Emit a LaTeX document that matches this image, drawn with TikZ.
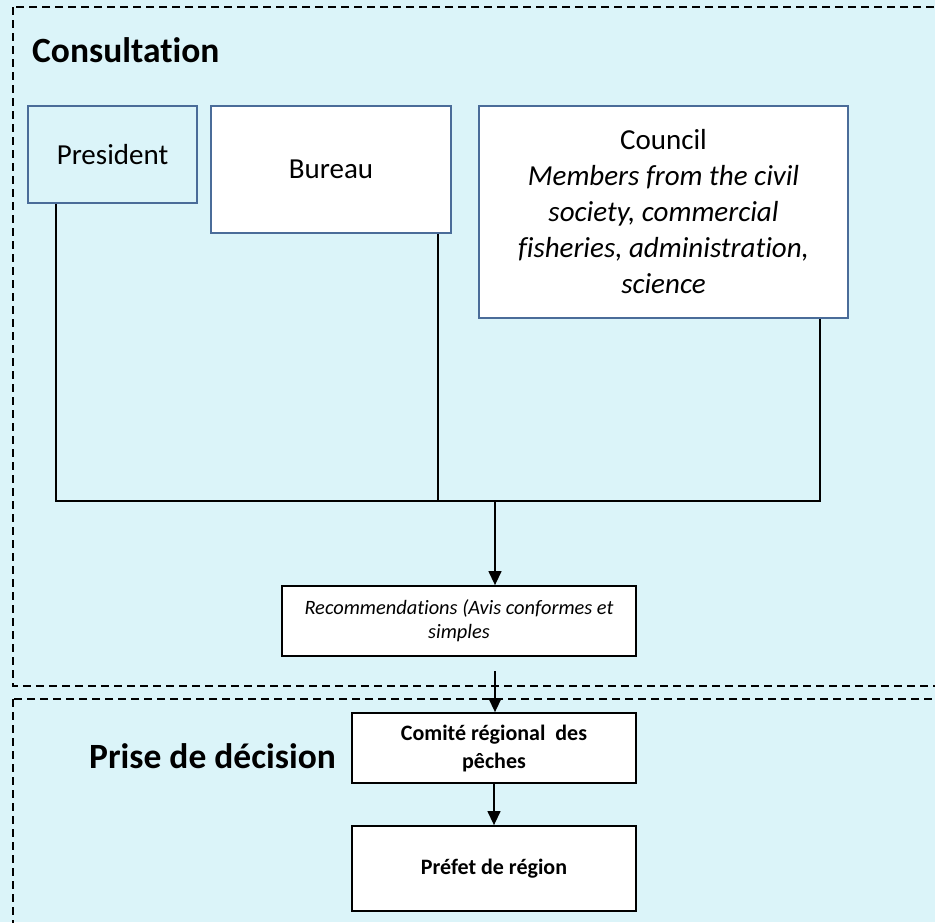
\documentclass[tikz,border=0pt]{standalone}
\usepackage{fontspec}
\setmainfont[Ligatures={NoCommon,NoContextual},RawFeature={-liga;-clig;-dlig;-calt}]{Carlito}
\usetikzlibrary{arrows.meta}
\definecolor{bgcyan}{RGB}{219,244,249}
\definecolor{boxblue}{RGB}{74,108,153}
\tikzset{
  zone/.style={draw=black, line width=1.5pt, dash pattern=on 8pt off 5pt},
  bluebox/.style={draw=boxblue, line width=1.6pt, inner sep=0pt, align=center, font=\fontsize{29}{36}\selectfont},
  blackbox/.style={draw=black, line width=1.8pt, fill=white, inner sep=0pt, align=center},
  link/.style={draw=black, line width=2pt},
  arr/.style={draw=black, line width=1.3pt, -{Triangle[length=14pt,width=13pt]}},
  title/.style={font=\fontsize{35.5}{42}\selectfont\bfseries, inner sep=0pt, anchor=base west}
}
\begin{document}
\begin{tikzpicture}[x=1pt,y=-1pt]
\useasboundingbox (0,0) rectangle (935,922);
\fill[bgcyan] (0,0) rectangle (935,922);
\clip (0,0) rectangle (935,922);
% zones
\draw[zone] (13,7) rectangle (945,686);
\draw[zone] (13,699) rectangle (945,935);
% titles
\node[title] (tcons) at (32,62) {Consultation};
\node[title] (tdec) at (89,768) {Prise de décision};
% consultation boxes
\node[bluebox, fill=bgcyan, minimum width=169pt, minimum height=97pt] (pres) at (112.5,154.5) {President};
\node[bluebox, fill=white, minimum width=240pt, minimum height=127pt] (bur) at (331,169.5) {Bureau};
\node[bluebox, fill=white, minimum width=369pt, minimum height=212pt] (coun) at (663.5,212) {Council\\ \itshape Members from the civil\\ \itshape society, commercial\\ \itshape fisheries, administration,\\ \itshape science};
% bus
\coordinate (busL) at (56,501);
\coordinate (busB) at (438,501);
\coordinate (busM) at (495,501);
\coordinate (busR) at (820,501);
\draw[link] (pres.south -| busL) -- (busL) -- (busR) -- (coun.south -| busR);
\draw[link] (bur.south -| busB) -- (busB);
% recommendations
\node[blackbox, minimum width=354pt, minimum height=70pt, font=\fontsize{20.4}{24}\selectfont\itshape] (rec) at (459,621) {Recommendations (Avis conformes et\\ simples};
\draw[arr] (busM) -- (busM |- rec.north);
% decision
\node[blackbox, minimum width=284pt, minimum height=70pt, font=\fontsize{22}{28}\selectfont\bfseries] (com) at (494,748) {Comité régional~ des\\ pêches};
\node[blackbox, minimum width=284pt, minimum height=85pt, font=\fontsize{22}{27}\selectfont\bfseries] (pref) at (494,868.5) {Préfet de région};
\coordinate (recout) at (495,671);
\draw[arr] (recout) -- (recout |- com.north);
\draw[arr] (com.south) -- (pref.north);
\end{tikzpicture}
\end{document}
